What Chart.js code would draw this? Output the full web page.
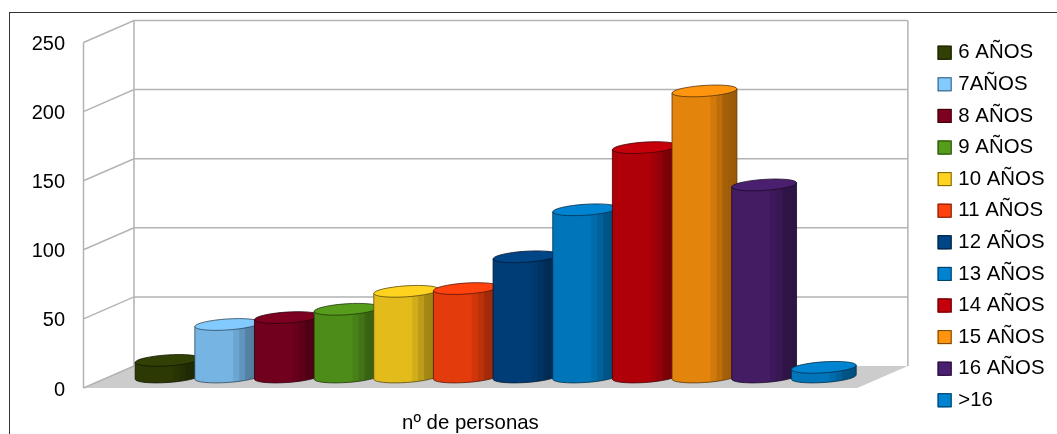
<!DOCTYPE html>
<html>
<head>
<meta charset="utf-8">
<script src="https://cdn.jsdelivr.net/npm/chart.js@4"></script>
<style>
  html, body { margin: 0; background: #fff; overflow: hidden; }
  #frame { position: absolute; left: 9px; top: 12px; width: 1048px; height: 422px; border-left: 1px solid #333; border-top: 1px solid #333; box-sizing: border-box; }
  #chart { position: absolute; left: 0; top: 0; }
</style>
</head>
<body>
<div id="frame"></div>
<canvas id="chart" width="1057" height="434"></canvas>
<script>
const categories = ["nº de personas"];
const seriesNames = ["6 AÑOS", "7AÑOS", "8 AÑOS", "9 AÑOS", "10 AÑOS", "11 AÑOS", "12 AÑOS", "13 AÑOS", "14 AÑOS", "15 AÑOS", "16 AÑOS", ">16"];
const seriesValues = [12, 38, 43, 49, 62, 64, 87, 121, 166, 207, 139, 7];
const seriesColors = ["#314004", "#83CAFF", "#7E0021", "#579D1C", "#FFD320", "#FF420E", "#004586", "#0084D1", "#C5000B", "#FF950E", "#4B1F6F", "#0084D1"];
const tickStep = 50;
const axisMax = 250;

// depth of the fake 3d box, in pixels
const depthX = 50.5;
const depthY = -22;
const tilt = 3.8 * Math.PI / 180;

function shade(hex, f) {
  const n = parseInt(hex.slice(1), 16);
  const r = Math.round((n >> 16) * f);
  const g = Math.round(((n >> 8) & 255) * f);
  const b = Math.round((n & 255) * f);
  return `rgb(${r},${g},${b})`;
}

function drawBox(chart) {
  const { ctx, chartArea: a, scales: { y } } = chart;
  ctx.save();
  ctx.fillStyle = "#cccccc";
  ctx.beginPath();
  ctx.moveTo(a.left, a.bottom);
  ctx.lineTo(a.left + depthX, a.bottom + depthY);
  ctx.lineTo(a.right + depthX, a.bottom + depthY);
  ctx.lineTo(a.right, a.bottom);
  ctx.closePath();
  ctx.fill();

  ctx.strokeStyle = "#b3b3b3";
  ctx.lineWidth = 1.5;
  ctx.beginPath();
  y.ticks.forEach((t) => {
    const py = y.getPixelForValue(t.value);
    ctx.moveTo(a.left, py);
    ctx.lineTo(a.left + depthX, py + depthY);
    if (t.value > 0) ctx.lineTo(a.right + depthX, py + depthY);
  });
  ctx.moveTo(a.left, a.top);
  ctx.lineTo(a.left, a.bottom);
  ctx.moveTo(a.left + depthX, a.top + depthY);
  ctx.lineTo(a.left + depthX, a.bottom + depthY);
  ctx.moveTo(a.right + depthX, a.top + depthY);
  ctx.lineTo(a.right + depthX, a.bottom + depthY);
  ctx.stroke();
  ctx.restore();
}

function drawCylinder(ctx, bar, color) {
  const cx = bar.x + depthX / 2;
  const yTop = bar.y + depthY / 2;
  const yBase = bar.base + depthY / 2;
  const rx = bar.width * 0.545;
  const ry = 5.5;
  const dx = rx * Math.cos(tilt);
  const dy = rx * Math.sin(tilt);

  const grad = ctx.createLinearGradient(cx - rx, 0, cx + rx, 0);
  [[0, 0.89], [0.58, 0.89], [0.6, 0.82], [0.68, 0.82], [0.69, 0.74], [0.77, 0.74], [0.78, 0.65], [1, 0.6]].forEach(([p, f]) => {
    grad.addColorStop(p, shade(color, f));
  });

  ctx.save();
  ctx.lineWidth = 0.8;
  ctx.strokeStyle = shade(color, 0.35);
  ctx.fillStyle = grad;
  ctx.beginPath();
  ctx.moveTo(cx - dx, yTop + dy);
  ctx.lineTo(cx - dx, yBase + dy);
  ctx.ellipse(cx, yBase, rx, ry, -tilt, Math.PI, 0, true);
  ctx.lineTo(cx + dx, yTop - dy);
  ctx.closePath();
  ctx.fill();
  ctx.stroke();

  ctx.fillStyle = color;
  ctx.beginPath();
  ctx.ellipse(cx, yTop, rx, ry, -tilt, 0, Math.PI * 2);
  ctx.fill();
  ctx.stroke();
  ctx.restore();
}

const cylinderPlugin = {
  id: "cylinders",
  beforeDatasetsDraw(chart) {
    drawBox(chart);
    chart.data.datasets.forEach((ds, i) => {
      drawCylinder(chart.ctx, chart.getDatasetMeta(i).data[0], ds.backgroundColor);
    });
  },
  // the cylinders above replace the flat bars
  beforeDatasetDraw() {
    return false;
  },
  afterDraw(chart) {
    // legend keys are a little wider than the gap the legend leaves for them
    const { ctx, legend } = chart;
    legend.legendHitBoxes.forEach((h, i) => {
      const top = h.top + h.height / 2 - 7;
      ctx.fillStyle = seriesColors[i];
      ctx.strokeStyle = shade(seriesColors[i], 0.45);
      ctx.lineWidth = 1;
      ctx.fillRect(h.left, top, 14, 14);
      ctx.strokeRect(h.left + 0.5, top + 0.5, 13, 13);
    });
  },
};

new Chart(document.getElementById("chart").getContext("2d"), {
  type: "bar",
  data: {
    labels: categories,
    datasets: seriesNames.map((name, i) => ({
      label: name,
      data: [seriesValues[i]],
      backgroundColor: seriesColors[i],
      categoryPercentage: 0.925,
      barPercentage: 1,
    })),
  },
  plugins: [cylinderPlugin],
  options: {
    responsive: false,
    animation: false,
    layout: { padding: { top: 19, right: 2.5, left: 0, bottom: 0 } },
    scales: {
      x: {
        grid: { display: false },
        border: { display: false },
        ticks: { padding: 15, color: "#000", font: { family: "Liberation Sans", size: 20.4 }, maxRotation: 0 },
        afterFit: (s) => { s.height = 46; },
      },
      y: {
        min: 0,
        max: axisMax,
        grid: { display: false },
        border: { display: false },
        ticks: {
          stepSize: tickStep,
          padding: 10.5,
          color: "#000",
          font: { family: "Liberation Sans", size: 20, lineHeight: 0.2 },
          // blank first line nudges the number down to where the original has it
          callback: (v) => [" ", String(v)],
        },
        afterFit: (s) => { s.width = 83.5; },
      },
      // empty axis, only keeps the space between the box and the legend
      spacer: {
        position: "right",
        grid: { display: false },
        border: { display: false },
        ticks: { display: false },
        afterFit: (s) => { s.width = 69.1; },
      },
    },
    plugins: {
      tooltip: { enabled: false },
      title: { display: true, text: "", fullSize: false, padding: { top: 0, bottom: 0 }, font: { size: 19.6, lineHeight: 1.2 } },
      legend: {
        position: "right",
        labels: {
          boxWidth: 10.5,
          boxHeight: 14,
          padding: 11.2,
          color: "#000",
          font: { family: "Liberation Sans", size: 20.4 },
        },
      },
    },
  },
});
</script>
</body>
</html>
